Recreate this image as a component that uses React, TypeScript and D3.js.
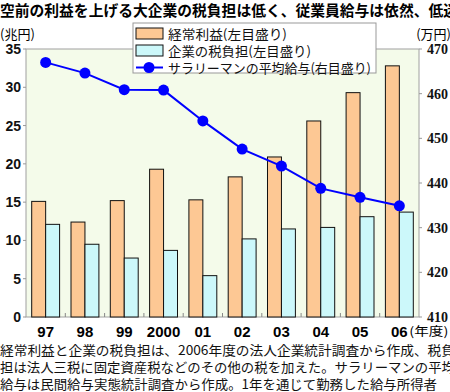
import React, { useRef, useEffect } from "react";
import * as d3 from "d3";

// fiscal years on the x axis
const years = ["97", "98", "99", "2000", "01", "02", "03", "04", "05", "06"];
// 経常利益 (兆円, left axis)
const profit = [15.1, 12.4, 15.2, 19.3, 15.3, 18.3, 20.9, 25.6, 29.3, 32.8];
// 企業の税負担 (兆円, left axis)
const tax = [12.1, 9.5, 7.7, 8.7, 5.4, 10.2, 11.5, 11.7, 13.1, 13.7];
// サラリーマンの平均給与 (万円, right axis)
const salary = [467.0, 464.6, 460.9, 460.8, 453.9, 447.6, 443.8, 438.8, 436.8, 434.9];

const leftTicks = [0, 5, 10, 15, 20, 25, 30, 35];
const rightTicks = [410, 420, 430, 440, 450, 460, 470];

const legendItems = [
    { label: "経常利益(左目盛り)", kind: "bar", color: "#fdc894", len: 119 },
    { label: "企業の税負担(左目盛り)", kind: "bar", color: "#ccf8fa", len: 143 },
    { label: "サラリーマンの平均給与(右目盛り)", kind: "line", color: "#0000ff", len: 203 },
];

const notes = [
    "経常利益と企業の税負担は、2006年度の法人企業統計調査から作成、税負",
    "担は法人三税に固定資産税などのその他の税を加えた。サラリーマンの平均",
    "給与は民間給与実態統計調査から作成。1年を通じて勤務した給与所得者",
];

const W = 450;
const H = 392;
const JP = "'Noto Sans CJK JP', sans-serif";
const SANS = "'Liberation Sans', Arial, sans-serif";
const SERIF = "'Liberation Serif', 'DejaVu Serif', serif";

function Chart() {
    const ref = useRef<SVGSVGElement>(null);

    useEffect(() => {
        const svg = d3.select(ref.current).html("");
        const left = 26, right = 419, top = 49, bottom = 317;

        const x = d3.scaleBand().domain(years).range([left, right]).paddingInner(0.29).paddingOuter(0.145);
        const sub = d3.scaleBand().domain(["p", "t"]).range([0, x.bandwidth()]);
        const yL = d3.scaleLinear().domain([0, 35]).range([bottom, top]);
        const yR = d3.scaleLinear().domain([410, 470]).range([bottom, top]);

        // title (runs past the right edge like the original)
        svg.append("text").attr("x", 0).attr("y", 16)
            .attr("font-family", JP).attr("font-weight", 700).attr("font-size", 15)
            .attr("textLength", 458).attr("lengthAdjust", "spacingAndGlyphs")
            .text("空前の利益を上げる大企業の税負担は低く、従業員給与は依然、低迷");

        // plot area
        svg.append("rect").attr("x", left).attr("y", top)
            .attr("width", right - left).attr("height", bottom - top)
            .attr("fill", "#f4fbea").attr("stroke", "#a0a0a0").attr("stroke-width", 1);

        // category separator ticks
        const gap = (x.step() - x.bandwidth()) / 2;
        svg.append("g").selectAll("line").data(years.slice(1)).join("line")
            .attr("x1", (d) => x(d)! - gap).attr("x2", (d) => x(d)! - gap)
            .attr("y1", bottom - 4).attr("y2", bottom)
            .attr("stroke", "#888").attr("stroke-width", 1);

        // left axis
        const gl = svg.append("g");
        gl.selectAll("line").data(leftTicks).join("line")
            .attr("x1", left - 3).attr("x2", left)
            .attr("y1", (d) => yL(d)).attr("y2", (d) => yL(d))
            .attr("stroke", "#999");
        gl.selectAll("text").data(leftTicks).join("text")
            .attr("x", 21).attr("y", (d) => yL(d) + 5)
            .attr("text-anchor", "end").attr("font-family", SANS)
            .attr("font-weight", 700).attr("font-size", 14).attr("fill", "#111")
            .text((d) => d);

        // right axis
        const gr = svg.append("g");
        gr.selectAll("line").data(rightTicks).join("line")
            .attr("x1", right).attr("x2", right + 3)
            .attr("y1", (d) => yR(d)).attr("y2", (d) => yR(d))
            .attr("stroke", "#999");
        gr.selectAll("text").data(rightTicks).join("text")
            .attr("x", 427).attr("y", (d) => yR(d) + 5)
            .attr("font-family", SERIF).attr("font-weight", 700).attr("font-size", 14).attr("fill", "#111")
            .text((d) => d);

        // unit labels
        svg.append("text").attr("x", 0).attr("y", 39)
            .attr("font-family", JP).attr("font-size", 13).text("(兆円)");
        svg.append("text").attr("x", 451).attr("y", 39).attr("text-anchor", "end")
            .attr("font-family", JP).attr("font-size", 13).text("(万円)");

        // bars
        const bars = svg.append("g");
        bars.selectAll("rect.p").data(profit).join("rect").attr("class", "p")
            .attr("x", (d, i) => x(years[i])! + sub("p")!)
            .attr("y", (d) => yL(d)).attr("width", sub.bandwidth())
            .attr("height", (d) => yL(0) - yL(d))
            .attr("fill", legendItems[0].color).attr("stroke", "#111").attr("stroke-width", 1);
        bars.selectAll("rect.t").data(tax).join("rect").attr("class", "t")
            .attr("x", (d, i) => x(years[i])! + sub("t")!)
            .attr("y", (d) => yL(d)).attr("width", sub.bandwidth())
            .attr("height", (d) => yL(0) - yL(d))
            .attr("fill", legendItems[1].color).attr("stroke", "#111").attr("stroke-width", 1);

        // salary line
        const cx = (i: number) => x(years[i])! + x.bandwidth() / 2;
        const line = d3.line<number>().x((d, i) => cx(i)).y((d) => yR(d));
        svg.append("path").datum(salary).attr("d", line)
            .attr("fill", "none").attr("stroke", "#0000ff").attr("stroke-width", 2);
        svg.append("g").selectAll("circle").data(salary).join("circle")
            .attr("cx", (d, i) => cx(i)).attr("cy", (d) => yR(d)).attr("r", 5.5)
            .attr("fill", "#0000ff");

        // x labels
        svg.append("g").selectAll("text").data(years).join("text")
            .attr("x", (d) => x(d)! + x.bandwidth() / 2).attr("y", 337)
            .attr("text-anchor", "middle").attr("font-family", SANS)
            .attr("font-weight", 700).attr("font-size", 15).text((d) => d);
        svg.append("text").attr("x", x("06")! + x.bandwidth() / 2 + 10).attr("y", 336)
            .attr("font-family", JP).attr("font-size", 12)
            .attr("textLength", 39).attr("lengthAdjust", "spacingAndGlyphs").text("(年度)");

        // legend
        const lg = svg.append("g");
        lg.append("rect").attr("x", 133).attr("y", 23).attr("width", 243).attr("height", 50)
            .attr("fill", "#fff").attr("stroke", "#999");
        legendItems.forEach((it, i) => {
            const cy = 33.5 + i * 17;
            if (it.kind === "bar") {
                lg.append("rect").attr("x", 136).attr("y", cy - 5.5).attr("width", 27).attr("height", 11)
                    .attr("fill", it.color).attr("stroke", "#111");
            } else {
                lg.append("line").attr("x1", 136).attr("x2", 163).attr("y1", cy).attr("y2", cy)
                    .attr("stroke", it.color).attr("stroke-width", 2);
                lg.append("circle").attr("cx", 149).attr("cy", cy).attr("r", 5.5).attr("fill", it.color);
            }
            lg.append("text").attr("x", 168).attr("y", cy + 5)
                .attr("font-family", JP).attr("font-size", 13).attr("fill", "#111")
                .attr("textLength", it.len).attr("lengthAdjust", "spacingAndGlyphs").text(it.label);
        });

        // footnote
        svg.append("g").selectAll("text").data(notes).join("text")
            .attr("x", 0).attr("y", (d, i) => 355 + i * 17)
            .attr("font-family", JP).attr("font-size", 13).attr("fill", "#111")
            .attr("textLength", (d, i) => (i === 2 ? 437 : 455)).attr("lengthAdjust", "spacingAndGlyphs")
            .text((d) => d);
    }, []);

    return <svg ref={ref} width={W} height={H} style={{ position: "absolute", left: 0, top: 0, background: "#fff" }} />;
}

export default function App() {
    return <Chart />;
}
